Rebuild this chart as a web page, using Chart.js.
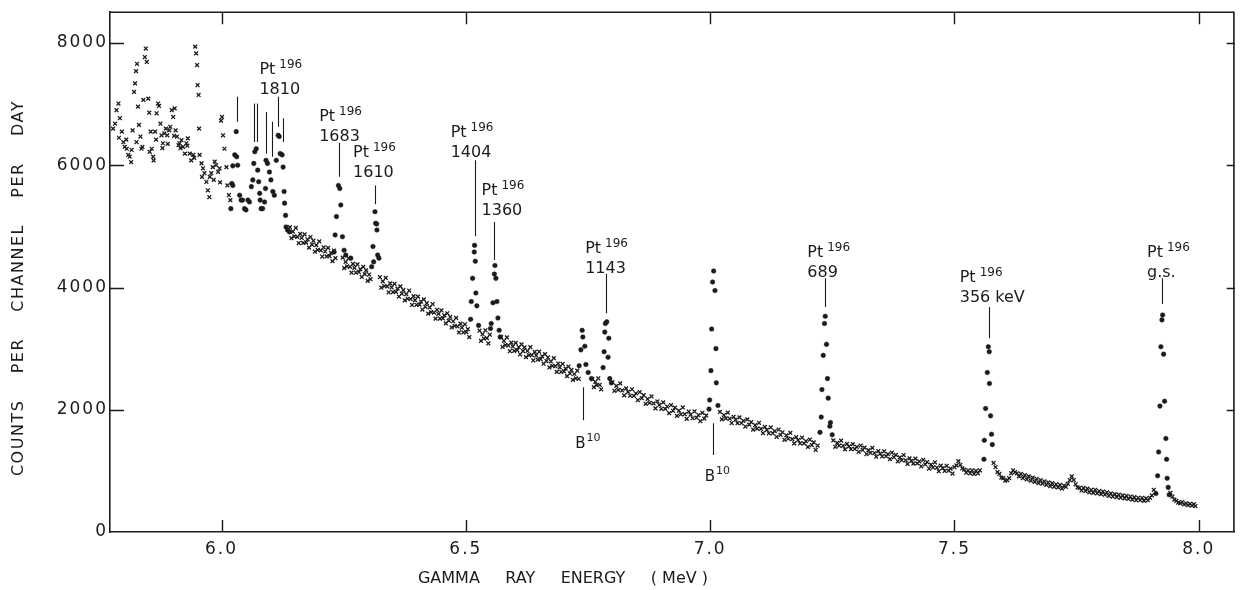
<!DOCTYPE html>
<html><head><meta charset="utf-8">
<script src="https://cdn.jsdelivr.net/npm/chart.js@4.4.1/dist/chart.umd.min.js"></script>
<style>html,body{margin:0;padding:0;background:#fff;}#wrap{width:1240px;height:590px;}</style>
</head><body><div id="wrap"><canvas id="c" width="1240" height="590"></canvas></div>
<script>
// ---- axes ----
const xTicks = [6.0, 6.5, 7.0, 7.5, 8.0];
const yTicks = [0, 2000, 4000, 6000, 8000];
const xRange = [5.7717, 8.0735];
const yRange = [0, 8504];
const xTitle = "GAMMA     RAY     ENERGY     ( MeV )";
const yTitle = "COUNTS    PER    CHANNEL    PER    DAY";

// ---- background channels (x marks): [energy MeV, counts per channel per day] ----
const bgLeft = [[5.778,6600],[5.782,6680],[5.785,6900],[5.789,7010],[5.790,6450],[5.792,6770],[5.796,6550],[5.799,6380],[5.802,6300],[5.805,6420],[5.806,6270],[5.809,6170],[5.812,6140],[5.815,6050],[5.816,6250],[5.818,6570],[5.821,7200],[5.823,7340],[5.825,7540],[5.826,6380],[5.827,7660],[5.829,6960],[5.831,6660],[5.834,6470],[5.836,6270],[5.838,6300],[5.840,7070],[5.843,7770],[5.845,7910],[5.847,7690],[5.850,7090],[5.852,6860],[5.853,6220],[5.855,6550],[5.857,6270],[5.860,6140],[5.861,6080],[5.864,6550],[5.866,6420],[5.867,6850],[5.870,7010],[5.872,6970],[5.875,6680],[5.877,6490],[5.879,6280],[5.880,6360],[5.883,6520],[5.886,6600],[5.889,6490],[5.890,6350],[5.893,6570],[5.895,6630],[5.898,6900],[5.901,6790],[5.903,6480],[5.904,6930],[5.906,6570],[5.909,6470],[5.912,6330],[5.914,6360],[5.916,6280],[5.918,6410],[5.921,6300],[5.925,6190],[5.928,6360],[5.930,6320],[5.931,6440],[5.935,6190],[5.938,6080],[5.942,6170],[5.944,6120],[5.946,7940],[5.948,7830],[5.950,7640],[5.951,7310],[5.953,7150],[5.954,6600],[5.955,6170],[5.959,6030],[5.960,5810],[5.962,5950],[5.965,5870],[5.969,5730],[5.972,5590],[5.975,5480],[5.976,5810],[5.979,5870],[5.982,5970],[5.984,5760],[5.986,6060],[5.989,6000],[5.993,5890],[5.996,5950],[5.997,5720],[5.999,6730],[6.001,6790],[6.003,6490],[6.006,6270],[6.010,5970],[6.012,5670],[6.015,5510],[6.018,5430]];

const bgA = [[6.140,4986],[6.143,4807],[6.146,4914],[6.149,4835],[6.152,4975],[6.155,4829],[6.158,4727],[6.161,4878],[6.164,4810],[6.167,4730],[6.170,4870],[6.173,4735],[6.176,4787],[6.179,4653],[6.182,4826],[6.185,4702],[6.188,4765],[6.191,4586],[6.194,4694],[6.197,4614],[6.200,4754],[6.203,4608],[6.206,4506],[6.209,4658],[6.212,4589],[6.215,4509],[6.218,4649],[6.221,4514],[6.224,4567],[6.227,4432],[6.230,4605],[6.233,4481],
[6.248,4488],[6.251,4317],[6.254,4420],[6.257,4344],[6.260,4478],[6.263,4339],[6.266,4242],[6.269,4387],[6.272,4321],[6.275,4245],[6.278,4379],[6.281,4250],[6.284,4301],[6.287,4172],[6.290,4338],[6.293,4219],[6.296,4280],[6.299,4109],[6.302,4212],[6.305,4136],
[6.324,4168],[6.327,3997],[6.330,4100],[6.333,4024],[6.336,4158],[6.339,4019],[6.342,3922],[6.345,4067],[6.348,4001],[6.351,3925],[6.354,4059],[6.357,3930],[6.360,3981],[6.363,3852],[6.366,4018],[6.369,3899],[6.372,3960],[6.375,3789],[6.378,3892],[6.381,3816],[6.384,3950],[6.387,3811],[6.390,3714],[6.393,3859],[6.396,3793],[6.399,3717],[6.402,3850],[6.405,3720],[6.408,3770],[6.411,3640],[6.414,3805],[6.417,3684],[6.420,3744],[6.423,3572],[6.426,3674],[6.429,3597],[6.432,3730],[6.435,3590],[6.438,3491],[6.441,3635],[6.444,3568],[6.447,3491],[6.450,3624],[6.453,3494],[6.456,3544],[6.459,3413],[6.462,3578],[6.465,3458],[6.468,3518],[6.471,3346],[6.474,3448],[6.477,3371],[6.480,3503],[6.483,3363],[6.486,3265],[6.489,3409],[6.492,3342],[6.495,3265],[6.498,3398],[6.501,3268],[6.504,3318],[6.507,3188],
[6.528,3293],[6.531,3127],[6.534,3236],[6.537,3165],[6.540,3300],[6.543,3171],[6.546,3085],[6.549,3228]];

const bgB = [[6.572,3192],[6.575,3030],[6.578,3128],[6.581,3056],[6.584,3184],[6.587,3052],[6.590,2960],[6.593,3098],[6.596,3036],[6.599,2964],[6.602,3094],[6.605,2975],[6.608,3026],[6.611,2907],[6.614,3068],[6.617,2959],[6.620,3020],[6.623,2861],[6.626,2962],[6.629,2893],[6.632,3024],[6.635,2895],[6.638,2806],[6.641,2947],[6.644,2888],[6.647,2819],[6.650,2950],[6.653,2828],[6.656,2875],[6.659,2753],[6.662,2910],[6.665,2797],[6.668,2855],[6.671,2692],[6.674,2790],[6.677,2717],[6.680,2844],[6.683,2712],[6.686,2619],[6.689,2756],[6.692,2694],[6.695,2621],[6.698,2749],[6.701,2626],[6.704,2673],[6.707,2550],[6.710,2707],[6.713,2594],[6.716,2651],[6.719,2488],[6.722,2585],[6.725,2512],[6.728,2639],[6.731,2506],
[6.759,2500],[6.762,2370],[6.765,2457],[6.768,2401],[6.771,2515],[6.774,2408],[6.777,2335],
[6.800,2451],[6.804,2310],[6.808,2390],[6.812,2326],[6.816,2432],[6.820,2316],[6.824,2235],[6.828,2350],[6.832,2293],[6.836,2229],[6.840,2335],[6.844,2227],[6.848,2266],[6.852,2159],[6.856,2290],[6.860,2191],[6.864,2238],[6.868,2096],[6.872,2177],[6.876,2113],[6.880,2218],[6.884,2103],[6.888,2022],[6.892,2136],[6.896,2080],[6.900,2016],[6.904,2121],[6.908,2014],[6.912,2053],[6.916,1945],[6.920,2077],[6.924,1983],[6.928,2035],[6.932,1899],[6.936,1985],[6.940,1926],[6.944,2037],[6.948,1927],[6.952,1851],[6.956,1971],[6.960,1920],[6.964,1861],[6.968,1972],[6.972,1870],[6.976,1914],[6.980,1812],[6.984,1949],[6.988,1855],[6.992,1907]];

const bgC = [[7.020,1965],[7.024,1842],[7.028,1914],[7.032,1859],[7.036,1953],[7.040,1853],[7.044,1783],[7.048,1885],[7.052,1837],[7.056,1781],[7.060,1876],[7.064,1783],[7.068,1818],[7.072,1725],[7.076,1842],[7.080,1756],[7.084,1799],[7.088,1675],[7.092,1748],[7.096,1692],[7.100,1787],[7.104,1687],[7.108,1616],[7.112,1719],[7.116,1670],[7.120,1615],[7.124,1710],[7.128,1616],[7.132,1652],[7.136,1558],[7.140,1676],[7.144,1590],[7.148,1632],[7.152,1509],[7.156,1581],[7.160,1526],[7.164,1621],[7.168,1520],[7.172,1450],[7.176,1552],[7.180,1504],[7.184,1449],[7.188,1543],[7.192,1450],[7.196,1485],[7.200,1392],[7.204,1510],[7.208,1423],[7.212,1466],[7.216,1342],[7.220,1415],
[7.252,1499],[7.256,1394],[7.260,1458],[7.264,1412],[7.268,1495],[7.272,1410],[7.276,1351],[7.280,1441],[7.284,1401],[7.288,1354],[7.292,1438],[7.296,1359],[7.300,1391],[7.304,1312],[7.308,1415],[7.312,1342],[7.316,1381],[7.320,1275],[7.324,1340],[7.328,1293],[7.332,1377],[7.336,1292],[7.340,1232],[7.344,1323],[7.348,1282],[7.352,1236],[7.356,1320],[7.360,1240],[7.364,1273],[7.368,1193],[7.372,1297],[7.376,1224],[7.380,1262],[7.384,1157],[7.388,1221],[7.392,1175],[7.396,1259],[7.400,1173],[7.404,1114],[7.408,1204],[7.412,1164],[7.416,1118],[7.420,1201],[7.424,1122],[7.428,1154],[7.432,1075],[7.436,1179],[7.440,1105],[7.444,1144],[7.448,1038],[7.452,1103],[7.456,1056],[7.460,1140],[7.464,1055],[7.468,995],[7.472,1086],[7.476,1045],[7.480,999],[7.484,1083],[7.488,1003],[7.492,1036],[7.496,956],[7.500,1060]];

const bgD = [[7.504,1090],[7.508,1160],[7.512,1100],[7.516,1040],[7.520,1020],[7.524,970],[7.528,1010],[7.532,960],[7.536,1010],[7.540,950],[7.544,1000],[7.548,960],[7.552,1010],
[7.580,1130],[7.584,1060],[7.588,980],[7.592,950],[7.596,890],[7.600,880],[7.604,840],[7.608,850],[7.612,880],[7.616,960],[7.620,1010],[7.624,980],[7.628,960],[7.632,910],[7.636,950],[7.640,880],[7.644,930],[7.648,860],[7.652,910],[7.656,840],[7.660,890],[7.664,820],[7.668,870],[7.672,800],[7.676,850],[7.680,790],[7.684,830],[7.688,770],[7.692,810],[7.696,750],[7.700,800],[7.704,740],[7.708,780],[7.712,730],[7.716,770],[7.720,710],[7.724,760],[7.728,740],[7.732,790],[7.736,850],[7.740,910],[7.744,850],[7.748,780],[7.752,730],[7.756,720],[7.760,680],[7.764,720],[7.768,670],[7.772,710],[7.776,650],[7.780,690],[7.784,640],[7.788,690],[7.792,630],[7.796,670],[7.800,620],[7.804,660],[7.808,610],[7.812,650],[7.816,590],[7.820,630],[7.824,580],[7.828,620],[7.832,570],[7.836,610],[7.840,560],[7.844,600],[7.848,550],[7.852,590],[7.856,540],[7.860,580],[7.864,530],[7.868,570],[7.872,520],[7.876,560],[7.880,520],[7.884,560],[7.888,510],[7.892,550],[7.896,520],[7.900,560],[7.904,600],[7.908,690],
[7.942,640],[7.946,580],[7.950,530],[7.954,510],[7.958,480],[7.962,470],[7.966,490],[7.970,450],[7.974,470],[7.978,440],[7.982,460],[7.986,430],[7.990,455],[7.993,425]];

// ---- peak channels (filled dots) ----
const pkCluster = [[6.019,5290],[6.021,5700],[6.023,5990],[6.023,5670],[6.027,6170],[6.030,6550],[6.031,6140],[6.033,6000],[6.037,5510],[6.040,5430],[6.043,5430],[6.047,5290],[6.050,5270],[6.054,5430],[6.057,5400],[6.061,5650],[6.064,5760],[6.066,6030],[6.068,6220],[6.071,6270],[6.074,5920],[6.076,5730],[6.078,5540],[6.079,5430],[6.081,5290],[6.084,5290],[6.088,5400],[6.090,5620],[6.091,6080],[6.094,6030],[6.098,5890],[6.101,5760],[6.105,5570],[6.108,5510],[6.112,6080],[6.116,6490],[6.118,6470],[6.120,6190],[6.124,6170],[6.126,5970],[6.128,5570],[6.129,5380],[6.131,5180],[6.132,4990],[6.135,4940],[6.139,4910]];
const pk1683 = [[6.2304,4580],[6.2324,4860],[6.2351,5160],[6.2392,5670],[6.2420,5620],[6.2440,5350],[6.2474,4830],[6.2508,4610],[6.2542,4530],[6.2644,4480]];
const pk1610 = [[6.3072,4340],[6.3113,4420],[6.3099,4670],[6.3140,5240],[6.3154,5050],[6.3174,5040],[6.3180,4940],[6.3195,4530],[6.3221,4480]];
const pk1404 = [[6.5097,3480],[6.5111,3770],[6.5138,4150],[6.5172,4580],[6.5178,4690],[6.5193,4430],[6.5205,3910],[6.5225,3700],[6.5260,3380]];
const pk1360 = [[6.5505,3330],[6.5519,3410],[6.5554,3750],[6.5583,4220],[6.5595,4360],[6.5615,4150],[6.5636,3770],[6.5656,3500],[6.5682,3300],[6.5702,3190]];
const pkB10a = [[6.7319,2720],[6.7354,2980],[6.7380,3300],[6.7394,3190],[6.7435,3040],[6.7456,2740],[6.7503,2610],[6.7570,2510]];
const pk1143 = [[6.7808,2690],[6.7829,2950],[6.7843,3270],[6.7855,3410],[6.7884,3440],[6.7910,2860],[6.7925,3170],[6.7945,2510],[6.7978,2440]];
const pkB10b = [[6.9976,2010],[6.9990,2160],[7.0016,2640],[7.0030,3320],[7.0050,4090],[7.0071,4270],[7.0098,3950],[7.0118,3000],[7.0126,2440],[7.0159,2070]];
const pk689 = [[7.2247,1630],[7.2273,1880],[7.2287,2330],[7.2314,2890],[7.2340,3410],[7.2355,3530],[7.2381,3070],[7.2401,2510],[7.2416,2190],[7.2449,1730],[7.2462,1790],[7.2497,1590]];
const pk356 = [[7.5603,1190],[7.5611,1500],[7.5637,2020],[7.5672,2610],[7.5692,3030],[7.5712,2950],[7.5716,2430],[7.5739,1900],[7.5759,1600],[7.5774,1430]];
const pkGs = [[7.9123,630],[7.9158,920],[7.9178,1310],[7.9205,2060],[7.9225,3030],[7.9246,3470],[7.9260,3550],[7.9280,2910],[7.9300,2140],[7.9327,1530],[7.9341,1190],[7.9353,880],[7.9374,730],[7.9394,610]];

// ---- annotations: vertical marker lines [energy, low counts, high counts] ----
const markerLines = [[6.0312,6710,7120],[6.0659,6380,7010],[6.0720,6380,7010],[6.0911,6190,6870],[6.1033,6140,6710],[6.1148,6630,7120],[6.1250,6380,6770],[6.2406,5810,6370],[6.3140,5360,5670],[6.5178,4840,6080],[6.5586,4450,5070],[6.7869,3580,4220],[6.7400,1830,2370],[7.0065,1260,1780],[7.2349,3680,4150],[7.5698,3170,3680],[7.9240,3730,4150]];
// level labels for Pt-196: text, anchor energy, anchor counts
const ptLabelText = ["1810","1683","1610","1404","1360","1143","689","356 keV","g.s."];
const ptLabelE = [6.0775,6.1998,6.2691,6.4689,6.5321,6.7441,7.1988,7.5107,7.8940];
const ptLabelC = [7490,6721,6132,6459,5511,4562,4497,4088,4497];
const b10LabelE = [6.7237,6.9888];
const b10LabelC = [1374,834];

const INK = '#1b1b1b';
const FONT = '"DejaVu Sans", "Liberation Sans", sans-serif';

const spacing = {
  id: 'spacing',
  beforeDraw(chart) { try { chart.ctx.letterSpacing = '2px'; } catch (e) {} }
};

const decor = {
  id: 'decor',
  afterDatasetsDraw(chart) {
    const ctx = chart.ctx, xs = chart.scales.x, ys = chart.scales.y, a = chart.chartArea;
    ctx.save();
    try { ctx.letterSpacing = '0px'; } catch (e) {}
    ctx.strokeStyle = INK; ctx.fillStyle = INK;
    // top and right frame
    ctx.lineWidth = 1.6;
    ctx.beginPath();
    ctx.moveTo(a.left, a.top); ctx.lineTo(a.right - 0.8, a.top); ctx.lineTo(a.right - 0.8, a.bottom);
    ctx.stroke();
    // inward ticks
    ctx.lineWidth = 1.4;
    ctx.beginPath();
    xTicks.forEach(v => {
      const px = Math.round(xs.getPixelForValue(v)) + 0.5;
      ctx.moveTo(px, a.bottom); ctx.lineTo(px, a.bottom - 12);
      ctx.moveTo(px, a.top); ctx.lineTo(px, a.top + 12);
    });
    yTicks.forEach(v => {
      if (v === 0) return;
      const py = Math.round(ys.getPixelForValue(v)) + 0.5;
      ctx.moveTo(a.left, py); ctx.lineTo(a.left + 14, py);
      ctx.moveTo(a.right, py); ctx.lineTo(a.right - 8, py);
    });
    ctx.stroke();
    // marker lines
    ctx.lineWidth = 1.1;
    ctx.beginPath();
    markerLines.forEach(m => {
      const px = Math.round(xs.getPixelForValue(m[0])) + 0.5;
      ctx.moveTo(px, ys.getPixelForValue(m[1])); ctx.lineTo(px, ys.getPixelForValue(m[2]));
    });
    ctx.stroke();
    // Pt labels
    ctx.textAlign = 'left'; ctx.textBaseline = 'alphabetic';
    ptLabelText.forEach((t, i) => {
      const px = xs.getPixelForValue(ptLabelE[i]), py = ys.getPixelForValue(ptLabelC[i]);
      ctx.font = '16px ' + FONT;
      ctx.fillText('Pt', px, py);
      const w = ctx.measureText('Pt').width;
      ctx.fillText(t, px, py + 20);
      ctx.font = '12px ' + FONT;
      ctx.fillText('196', px + w + 4, py - 6);
    });
    b10LabelE.forEach((e, i) => {
      const px = xs.getPixelForValue(e), py = ys.getPixelForValue(b10LabelC[i]);
      ctx.font = '15px ' + FONT;
      ctx.fillText('B', px, py);
      const w = ctx.measureText('B').width;
      ctx.font = '11px ' + FONT;
      ctx.fillText('10', px + w + 1, py - 7);
    });
    // axis titles
    ctx.font = '16px ' + FONT;
    ctx.textAlign = 'center'; ctx.textBaseline = 'middle';
    ctx.fillText(xTitle, 563, 579);
    ctx.save();
    ctx.translate(19, 288);
    ctx.rotate(-Math.PI / 2);
    try { ctx.letterSpacing = '1.5px'; } catch (e) {}
    ctx.fillText(yTitle, 0, 0);
    ctx.restore();
    ctx.restore();
  }
};

const crossPts = [].concat(bgLeft, bgA, bgB, bgC, bgD).map(p => ({x: p[0], y: p[1]}));
const dotPts = [].concat(pkCluster, pk1683, pk1610, pk1404, pk1360, pkB10a, pk1143, pkB10b, pk689, pk356, pkGs).map(p => ({x: p[0], y: p[1]}));

new Chart(document.getElementById('c'), {
  type: 'scatter',
  data: {
    datasets: [
      { label: 'background', data: crossPts, pointStyle: 'crossRot', pointRadius: 2.7, borderColor: INK, backgroundColor: INK, pointBorderWidth: 1.3 },
      { label: 'peaks', data: dotPts, pointStyle: 'circle', pointRadius: 2.3, borderColor: INK, backgroundColor: INK, pointBorderWidth: 0.5 }
    ]
  },
  options: {
    responsive: false, animation: false, events: [],
    layout: { padding: { top: 12, right: 1, left: 0, bottom: 0 } },
    plugins: { legend: { display: false }, tooltip: { enabled: false } },
    scales: {
      x: {
        type: 'linear', min: xRange[0], max: xRange[1],
        afterBuildTicks: s => { s.ticks = xTicks.map(v => ({ value: v })); },
        afterFit: s => { s.height = 58; },
        grid: { display: false, drawTicks: false },
        border: { display: true, color: INK, width: 1.6 },
        ticks: { autoSkip: false, maxRotation: 0, padding: 7, color: INK, font: { family: FONT, size: 17 }, callback: v => Number(v).toFixed(1) }
      },
      y: {
        type: 'linear', min: yRange[0], max: yRange[1],
        afterBuildTicks: s => { s.ticks = yTicks.map(v => ({ value: v })); },
        afterFit: s => { s.width = 110; },
        grid: { display: false, drawTicks: false },
        border: { display: true, color: INK, width: 1.6 },
        ticks: { autoSkip: false, padding: 2, color: INK, font: { family: FONT, size: 17 }, callback: v => String(v) }
      }
    }
  },
  plugins: [spacing, decor]
});
</script>
</body></html>
